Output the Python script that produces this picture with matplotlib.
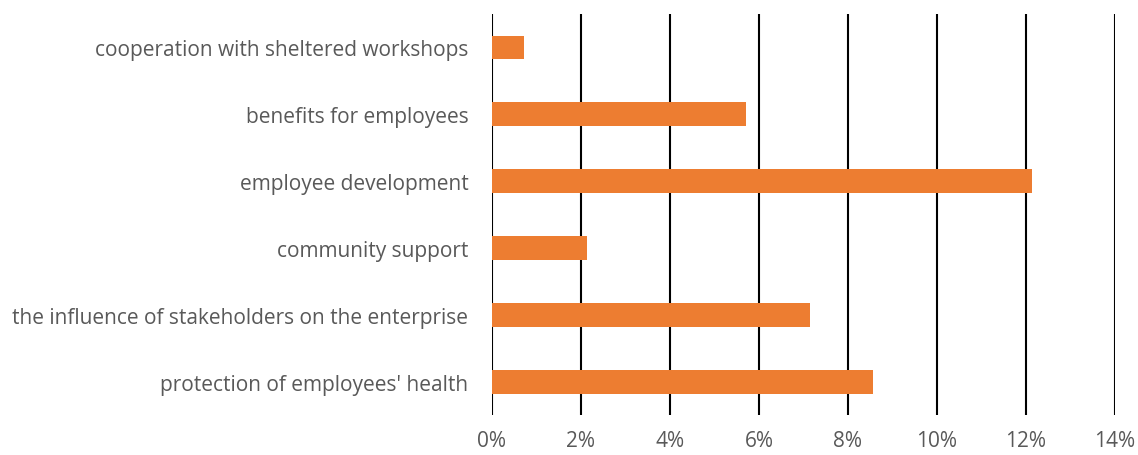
import matplotlib.pyplot as plt
from matplotlib.ticker import FuncFormatter

CATEGORIES = [
    "protection of employees' health",
    "the influence of stakeholders on the enterprise",
    "community support",
    "employee development",
    "benefits for employees",
    "cooperation with sheltered workshops",
]
SHARES = [8.57, 7.14, 2.14, 12.14, 5.71, 0.71]
X_TICKS = [0, 2, 4, 6, 8, 10, 12, 14]

BAR_COLOR = "#ED7D31"
TEXT_COLOR = "#595959"


def main() -> None:
    plt.rcParams["font.family"] = ["Open Sans", "DejaVu Sans"]

    fig = plt.figure(figsize=(11.38, 4.56), dpi=100)
    ax = fig.add_axes([0.4323, 0.0877, 0.5475, 0.8793])

    y = range(len(CATEGORIES))
    ax.barh(y, SHARES, height=0.357, color=BAR_COLOR, zorder=3)

    ax.set_xlim(0, 14)
    ax.set_ylim(-0.5, len(CATEGORIES) - 0.5)
    ax.set_xticks(X_TICKS)
    ax.xaxis.set_major_formatter(FuncFormatter(lambda v, _: f"{v:.0f}%"))
    ax.set_yticks(list(y))
    ax.set_yticklabels(CATEGORIES)

    ax.grid(axis="x", color="black", linewidth=1.5, zorder=1)
    for side in ["top", "right", "bottom", "left"]:
        ax.spines[side].set_visible(False)
    ax.tick_params(axis="both", length=0, labelsize=15, colors=TEXT_COLOR)
    ax.tick_params(axis="x", pad=11)
    ax.tick_params(axis="y", pad=17)

    fig.savefig("out.png", dpi=100)


if __name__ == "__main__":
    main()
